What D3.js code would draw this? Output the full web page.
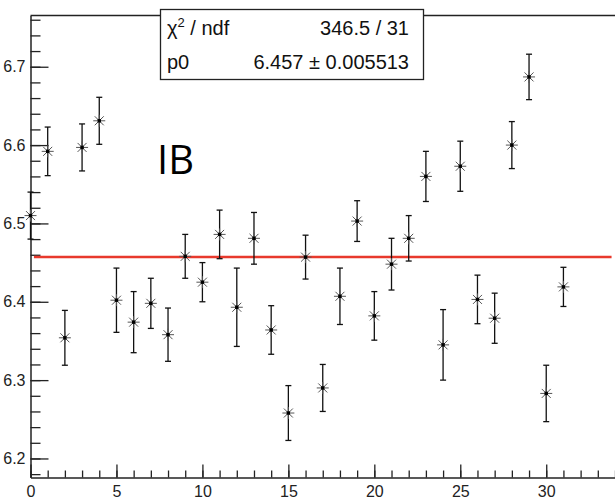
<!DOCTYPE html>
<html>
<head>
<meta charset="utf-8">
<script src="https://cdn.jsdelivr.net/npm/d3@7"></script>
<style>
  body { margin: 0; background: #fff; }
  svg { display: block; }
  text { font-family: "Liberation Sans", Arial, sans-serif; }
</style>
</head>
<body>
<script>
// run index and measured value (with error) per point
const runs = [0, 1, 2, 3, 4, 5, 6, 7, 8, 9, 10, 11, 12, 13, 14, 15,
              16, 17, 18, 19, 20, 21, 22, 23, 24, 25, 26, 27, 28, 29, 30, 31];
const values = [6.510, 6.592, 6.354, 6.597, 6.631, 6.402, 6.374, 6.398,
                6.358, 6.458, 6.425, 6.486, 6.393, 6.481, 6.364, 6.258,
                6.457, 6.290, 6.407, 6.503, 6.382, 6.448, 6.481, 6.560,
                6.345, 6.573, 6.403, 6.379, 6.600, 6.687, 6.283, 6.419];
const errors = [0.030, 0.031, 0.035, 0.030, 0.030, 0.041, 0.039, 0.032,
                0.034, 0.028, 0.025, 0.031, 0.050, 0.033, 0.031, 0.035,
                0.028, 0.030, 0.036, 0.026, 0.031, 0.033, 0.029, 0.032,
                0.045, 0.032, 0.031, 0.032, 0.030, 0.029, 0.036, 0.025];

const xTickLabels = [0, 5, 10, 15, 20, 25, 30];
const yTickLabels = [6.2, 6.3, 6.4, 6.5, 6.6, 6.7];

// pol0 fit result
const fitP0 = 6.457;
const fitP0Err = 0.005513;
const chi2 = 346.5;
const ndf = 31;
const fitRange = [0.2, 33.8];
const label = "IB";

const width = 615;
const height = 498;
const svg = d3.select('body').append('svg').attr('width', width).attr('height', height);

const x = d3.scaleLinear().domain([0, 34]).range([30.5, 615]);
const y = d3.scaleLinear().domain([6.1757, 6.7654]).range([477.5, 15.5]);

const lineCol = '#222';

// top frame
svg.append('line')
  .attr('x1', x(0)).attr('x2', width)
  .attr('y1', y.range()[1]).attr('y2', y.range()[1])
  .attr('stroke', lineCol).attr('stroke-width', 1.3);

// y axis: minor then major ticks (ticks point into the frame)
svg.append('g')
  .attr('transform', `translate(${x(0)},0)`)
  .call(d3.axisLeft(y).tickValues(y.ticks(30)).tickSize(-10).tickSizeOuter(0).tickFormat(''))
  .call(g => g.select('.domain').remove())
  .call(g => g.selectAll('line').attr('stroke', lineCol).attr('stroke-width', 1.3));

svg.append('g')
  .attr('transform', `translate(${x(0)},0)`)
  .call(d3.axisLeft(y).tickValues(yTickLabels).tickSize(-18).tickSizeOuter(0).tickPadding(5)
    .tickFormat(d3.format('.1f')))
  .call(g => g.select('.domain').attr('stroke', lineCol).attr('stroke-width', 1.5))
  .call(g => g.selectAll('line').attr('stroke', lineCol).attr('stroke-width', 1.3))
  .call(g => g.selectAll('text').attr('font-size', 16).attr('fill', '#222')
    .style('font-family', '"Liberation Sans", Arial, sans-serif'));

// x axis
svg.append('g')
  .attr('transform', `translate(0,${y.range()[0]})`)
  .call(d3.axisBottom(x).tickValues(x.ticks(34)).tickSize(-7).tickSizeOuter(0).tickFormat(''))
  .call(g => g.select('.domain').remove())
  .call(g => g.selectAll('line').attr('stroke', lineCol).attr('stroke-width', 1.3));

svg.append('g')
  .attr('transform', `translate(0,${y.range()[0]})`)
  .call(d3.axisBottom(x).tickValues(xTickLabels).tickSize(-13).tickSizeOuter(0).tickPadding(8))
  .call(g => g.select('.domain').attr('stroke', lineCol).attr('stroke-width', 1.5))
  .call(g => g.selectAll('line').attr('stroke', lineCol).attr('stroke-width', 1.3))
  .call(g => g.selectAll('text').attr('font-size', 16).attr('fill', '#222')
    .style('font-family', '"Liberation Sans", Arial, sans-serif'));

// fit line
svg.append('path')
  .datum(fitRange)
  .attr('d', d3.line().x(d => x(d)).y(() => y(fitP0)))
  .attr('stroke', '#e8392c').attr('stroke-width', 2.5).attr('fill', 'none');

// points with error bars
const pts = svg.append('g').selectAll('g')
  .data(runs.map((r, i) => ({ r, v: values[i], e: errors[i] })))
  .join('g')
  .attr('transform', d => `translate(${x(d.r)},0)`);

pts.append('line')
  .attr('y1', d => y(d.v + d.e)).attr('y2', d => y(d.v - d.e))
  .attr('stroke', '#111').attr('stroke-width', 1.3);
pts.append('line')
  .attr('x1', -3).attr('x2', 3)
  .attr('y1', d => y(d.v + d.e)).attr('y2', d => y(d.v + d.e))
  .attr('stroke', '#111').attr('stroke-width', 1.3);
pts.append('line')
  .attr('x1', -3).attr('x2', 3)
  .attr('y1', d => y(d.v - d.e)).attr('y2', d => y(d.v - d.e))
  .attr('stroke', '#111').attr('stroke-width', 1.3);

// asterisk marker
pts.append('path')
  .attr('d', d => {
    const cy = y(d.v);
    return `M-6,${cy}H6M0,${cy - 6}V${cy + 6}M-4.5,${cy - 4.5}L4.5,${cy + 4.5}M-4.5,${cy + 4.5}L4.5,${cy - 4.5}`;
  })
  .attr('stroke', '#555').attr('stroke-width', 1).attr('fill', 'none');
pts.append('rect')
  .attr('x', -1.7).attr('y', d => y(d.v) - 1.7)
  .attr('width', 3.4).attr('height', 3.4)
  .attr('fill', '#000');

// stats box
const box = svg.append('g');
box.append('rect')
  .attr('x', 160.5).attr('y', 9.5).attr('width', 263).attr('height', 70)
  .attr('fill', '#fff').attr('stroke', lineCol).attr('stroke-width', 1.3);

const row1 = box.append('text').attr('x', 167).attr('y', 35).attr('font-size', 20).attr('fill', '#111');
row1.append('tspan').text('χ');
row1.append('tspan').attr('font-size', 13).attr('dy', -8).text('2');
row1.append('tspan').attr('dy', 8).text(' / ndf');
box.append('text').attr('x', 409).attr('y', 35).attr('font-size', 20).attr('fill', '#111')
  .attr('text-anchor', 'end').text(`${chi2} / ${ndf}`);

box.append('text').attr('x', 167).attr('y', 69).attr('font-size', 20).attr('fill', '#111').text('p0');
box.append('text').attr('x', 409).attr('y', 69).attr('font-size', 20).attr('fill', '#111')
  .attr('text-anchor', 'end').text(`${fitP0} ± ${fitP0Err}`);

// big label
svg.append('text')
  .attr('x', 157).attr('y', 174)
  .attr('font-size', 40)
  .style('font-family', '"Open Sans", "Noto Sans", sans-serif')
  .attr('fill', '#000')
  .text(label);
</script>
</body>
</html>
